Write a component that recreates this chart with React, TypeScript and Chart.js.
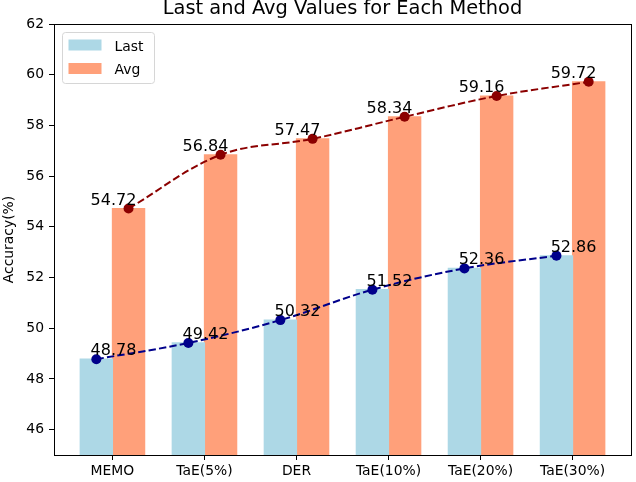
import React, { useEffect, useRef } from "react";
import { Chart, registerables } from "chart.js";

Chart.register(...registerables);

const methods = ["MEMO", "TaE(5%)", "DER", "TaE(10%)", "TaE(20%)", "TaE(30%)"];
const lastValues = [48.78, 49.42, 50.32, 51.52, 52.36, 52.86];
const avgValues = [54.72, 56.84, 57.47, 58.34, 59.16, 59.72];
const yTicks = [46, 48, 50, 52, 54, 56, 58, 60, 62];
const seriesNames = ["Last", "Avg"];

const FONT = "'DejaVu Sans', 'Liberation Sans', sans-serif";
const BAR_COLORS = ["#ADD8E6", "#FFA07A"];
const LINE_COLORS = ["#00008B", "#8B0000"];
const GROUP = 0.7;
const HALF = GROUP / 4;

export default function App() {
  const ref = useRef<HTMLCanvasElement | null>(null);

  useEffect(() => {
    document.body.style.margin = "0";
    const canvas = ref.current;
    if (!canvas) return;

    const decor = {
      id: "decor",
      afterDraw(chart: any) {
        const ctx = chart.ctx;
        const ca = chart.chartArea;
        const xs = chart.scales.x;
        const ys = chart.scales.y;
        ctx.save();
        // frame
        ctx.strokeStyle = "#000";
        ctx.lineWidth = 1;
        ctx.strokeRect(Math.round(ca.left) + 0.5, Math.round(ca.top) + 0.5, Math.round(ca.right - ca.left), Math.round(ca.bottom - ca.top));
        // value labels
        ctx.fillStyle = "#000";
        ctx.font = `16px ${FONT}`;
        ctx.textAlign = "center";
        ctx.textBaseline = "alphabetic";
        [lastValues, avgValues].forEach((vals) => {
          vals.forEach((v, i) => {
            ctx.fillText(v.toFixed(2), xs.getPixelForValue(i) + 1, ys.getPixelForValue(v) - 4);
          });
        });
        // title
        ctx.font = `19.4px ${FONT}`;
        ctx.fillText("Last and Avg Values for Each Method", (ca.left + ca.right) / 2, 13.5);
        // y label
        ctx.font = `13.9px ${FONT}`;
        ctx.save();
        ctx.translate(13, (ca.top + ca.bottom) / 2);
        ctx.rotate(-Math.PI / 2);
        ctx.fillText("Accuracy(%)", 0, 0);
        ctx.restore();
        // legend
        const lx = ca.left + 8.5, ly = ca.top + 8.5, lw = 92, lh = 51, r = 3;
        ctx.beginPath();
        ctx.moveTo(lx + r, ly);
        ctx.lineTo(lx + lw - r, ly);
        ctx.quadraticCurveTo(lx + lw, ly, lx + lw, ly + r);
        ctx.lineTo(lx + lw, ly + lh - r);
        ctx.quadraticCurveTo(lx + lw, ly + lh, lx + lw - r, ly + lh);
        ctx.lineTo(lx + r, ly + lh);
        ctx.quadraticCurveTo(lx, ly + lh, lx, ly + lh - r);
        ctx.lineTo(lx, ly + r);
        ctx.quadraticCurveTo(lx, ly, lx + r, ly);
        ctx.closePath();
        ctx.fillStyle = "rgba(255,255,255,0.8)";
        ctx.fill();
        ctx.strokeStyle = "#d6d6d6";
        ctx.stroke();
        ctx.font = `13.9px ${FONT}`;
        ctx.textAlign = "left";
        seriesNames.forEach((name, k) => {
          const top = ly + 7 + k * 23.5;
          ctx.fillStyle = BAR_COLORS[k];
          ctx.fillRect(lx + 6, top, 33, 11);
          ctx.fillStyle = "#000";
          ctx.fillText(name, lx + 52, top + 11);
        });
        ctx.restore();
      },
    };

    const lineStyle = (color: string) => ({
      type: "line",
      borderColor: color,
      backgroundColor: color,
      borderWidth: 2,
      borderDash: [7.4, 3.2],
      pointRadius: 5,
      pointBorderWidth: 0,
      pointBackgroundColor: color,
      tension: 0.35,
      order: 0,
    });

    const barStyle = (color: string) => ({
      type: "bar",
      backgroundColor: color,
      borderWidth: 0,
      inflateAmount: 0.6,
      categoryPercentage: GROUP,
      barPercentage: 1,
      order: 1,
    });

    const chart = new Chart(canvas, {
      type: "bar",
      data: {
        datasets: [
          {
            ...lineStyle(LINE_COLORS[0]),
            label: "lastLine",
            data: lastValues.map((v, i) => ({ x: i - HALF, y: v })),
          } as any,
          {
            ...lineStyle(LINE_COLORS[1]),
            label: "avgLine",
            data: avgValues.map((v, i) => ({ x: i + HALF, y: v })),
          } as any,
          {
            ...barStyle(BAR_COLORS[0]),
            label: seriesNames[0],
            data: lastValues.map((v, i) => ({ x: i, y: v })),
          } as any,
          {
            ...barStyle(BAR_COLORS[1]),
            label: seriesNames[1],
            data: avgValues.map((v, i) => ({ x: i, y: v })),
          } as any,
        ],
      },
      options: {
        animation: false,
        responsive: false,
        devicePixelRatio: 1,
        layout: { padding: { top: 24, right: 3, left: 0, bottom: 0 } },
        plugins: {
          legend: { display: false },
          title: { display: false },
          tooltip: { enabled: false },
        },
        scales: {
          x: {
            type: "linear",
            min: -0.635,
            max: methods.length - 1 + 0.635,
            offset: false,
            grid: { offset: false, drawOnChartArea: false, drawTicks: true, tickLength: 5, color: "#000", tickWidth: 1 },
            border: { display: false },
            ticks: {
              font: { family: FONT, size: 13.9 },
              color: "#000",
              padding: 3,
              maxRotation: 0,
              autoSkip: false,
              callback: (v: any) => methods[Math.round(Number(v))] ?? "",
            },
            afterBuildTicks: (s: any) => {
              s.ticks = methods.map((_, i) => ({ value: i }));
            },
            afterFit: (s: any) => {
              s.height = 27;
            },
          } as any,
          y: {
            type: "linear",
            min: 45,
            max: 62,
            grid: { drawOnChartArea: false, drawTicks: true, tickLength: 5, color: "#000", tickWidth: 1 },
            border: { display: false },
            ticks: {
              font: { family: FONT, size: 13.9 },
              color: "#000",
              padding: 5,
              autoSkip: false,
            },
            afterBuildTicks: (s: any) => {
              s.ticks = yTicks.map((v) => ({ value: v }));
            },
            afterFit: (s: any) => {
              s.width = 54;
            },
          } as any,
        },
      } as any,
      plugins: [decor],
    });

    return () => chart.destroy();
  }, []);

  return (
    <div style={{ width: 636, height: 482 }}>
      <canvas ref={ref} width={636} height={482} style={{ display: "block" }} />
    </div>
  );
}
